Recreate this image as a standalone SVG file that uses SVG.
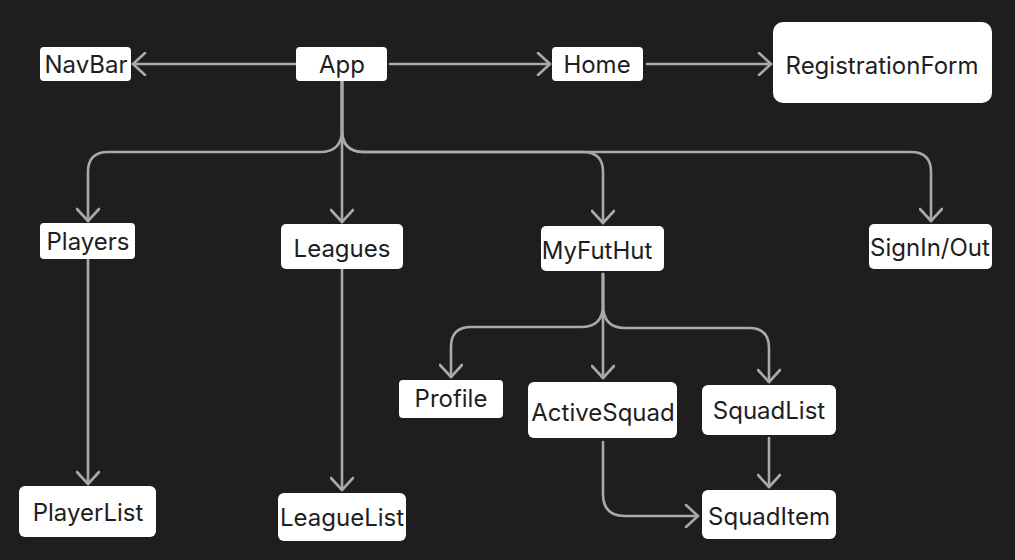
<svg xmlns="http://www.w3.org/2000/svg" width="1015" height="560" viewBox="0 0 1015 560">
<defs>
<style>
.node rect{fill:#ffffff;}
.node text{font-family:Inter,"Noto Sans",sans-serif;font-size:24px;fill:#1e1e1e;text-anchor:middle;dominant-baseline:central;}
.conn path{fill:none;stroke:#a9a9a9;stroke-width:2.6;stroke-linecap:round;stroke-linejoin:round;}
</style>
<marker id="arr" viewBox="0 0 16 24" refX="14" refY="12" markerWidth="16" markerHeight="24" markerUnits="userSpaceOnUse" orient="auto">
<path d="M2,1 L14,12 L2,23" fill="none" stroke="#a9a9a9" stroke-width="2.6" stroke-linecap="round" stroke-linejoin="round"/>
</marker>
</defs>
<rect x="0" y="0" width="1015" height="560" fill="#1e1e1e"/>
<g class="conn">
<path d="M296,64 L133,64" marker-end="url(#arr)"/>
<path d="M390,64 L550,64" marker-end="url(#arr)"/>
<path d="M647,64 L771,64" marker-end="url(#arr)"/>
<path d="M342,81 L342,222" marker-end="url(#arr)"/>
<path d="M342,81 L342,130 Q342,152 320,152 L108,152 Q88,152 88,172 L88,221" marker-end="url(#arr)"/>
<path d="M342,81 L342,130 Q342,152 364,152 L583,152 Q603,152 603,172 L603,223" marker-end="url(#arr)"/>
<path d="M342,81 L342,130 Q342,152 364,152 L911,152 Q931,152 931,172 L931,221" marker-end="url(#arr)"/>
<path d="M88,259 L88,484" marker-end="url(#arr)"/>
<path d="M342,269 L342,490" marker-end="url(#arr)"/>
<path d="M603,274 L603,305 Q603,327 581,327 L471,327 Q451,327 451,347 L451,377" marker-end="url(#arr)"/>
<path d="M603,274 L603,378" marker-end="url(#arr)"/>
<path d="M603,274 L603,305 Q603,328 625,328 L749,328 Q769,328 769,348 L769,382" marker-end="url(#arr)"/>
<path d="M603,442 L603,494 Q603,516 625,516 L698,516" marker-end="url(#arr)"/>
<path d="M769,438 L769,487" marker-end="url(#arr)"/>
</g>
<g id="NavBar" class="node"><rect x="40" y="47" width="91" height="34" rx="4"/><text x="86" y="64">NavBar</text></g>
<g id="App" class="node"><rect x="296" y="47" width="91" height="34" rx="4"/><text x="342" y="64">App</text></g>
<g id="Home" class="node"><rect x="552" y="47" width="91" height="34" rx="4"/><text x="597" y="64">Home</text></g>
<g id="RegistrationForm" class="node"><rect x="773" y="22" width="219" height="81" rx="10"/><text x="882" y="65">RegistrationForm</text></g>
<g id="Players" class="node"><rect x="40" y="223" width="95" height="36" rx="4"/><text x="88" y="241">Players</text></g>
<g id="Leagues" class="node"><rect x="281" y="224" width="122" height="45" rx="5"/><text x="342" y="248">Leagues</text></g>
<g id="MyFutHut" class="node"><rect x="541" y="226" width="123" height="45" rx="5"/><text x="597" y="250">MyFutHut</text></g>
<g id="SignInOut" class="node"><rect x="869" y="224" width="123" height="45" rx="5"/><text x="930" y="247">SignIn/Out</text></g>
<g id="Profile" class="node"><rect x="399" y="380" width="104" height="38" rx="4"/><text x="451" y="398">Profile</text></g>
<g id="ActiveSquad" class="node"><rect x="528" y="382" width="149" height="56" rx="6"/><text x="603" y="412">ActiveSquad</text></g>
<g id="SquadList" class="node"><rect x="702" y="385" width="134" height="50" rx="6"/><text x="769" y="410">SquadList</text></g>
<g id="SquadItem" class="node"><rect x="702" y="490" width="134" height="49" rx="6"/><text x="769" y="516">SquadItem</text></g>
<g id="PlayerList" class="node"><rect x="19" y="486" width="137" height="51" rx="6"/><text x="88" y="512">PlayerList</text></g>
<g id="LeagueList" class="node"><rect x="278" y="493" width="128" height="48" rx="6"/><text x="342" y="517">LeagueList</text></g>
</svg>
